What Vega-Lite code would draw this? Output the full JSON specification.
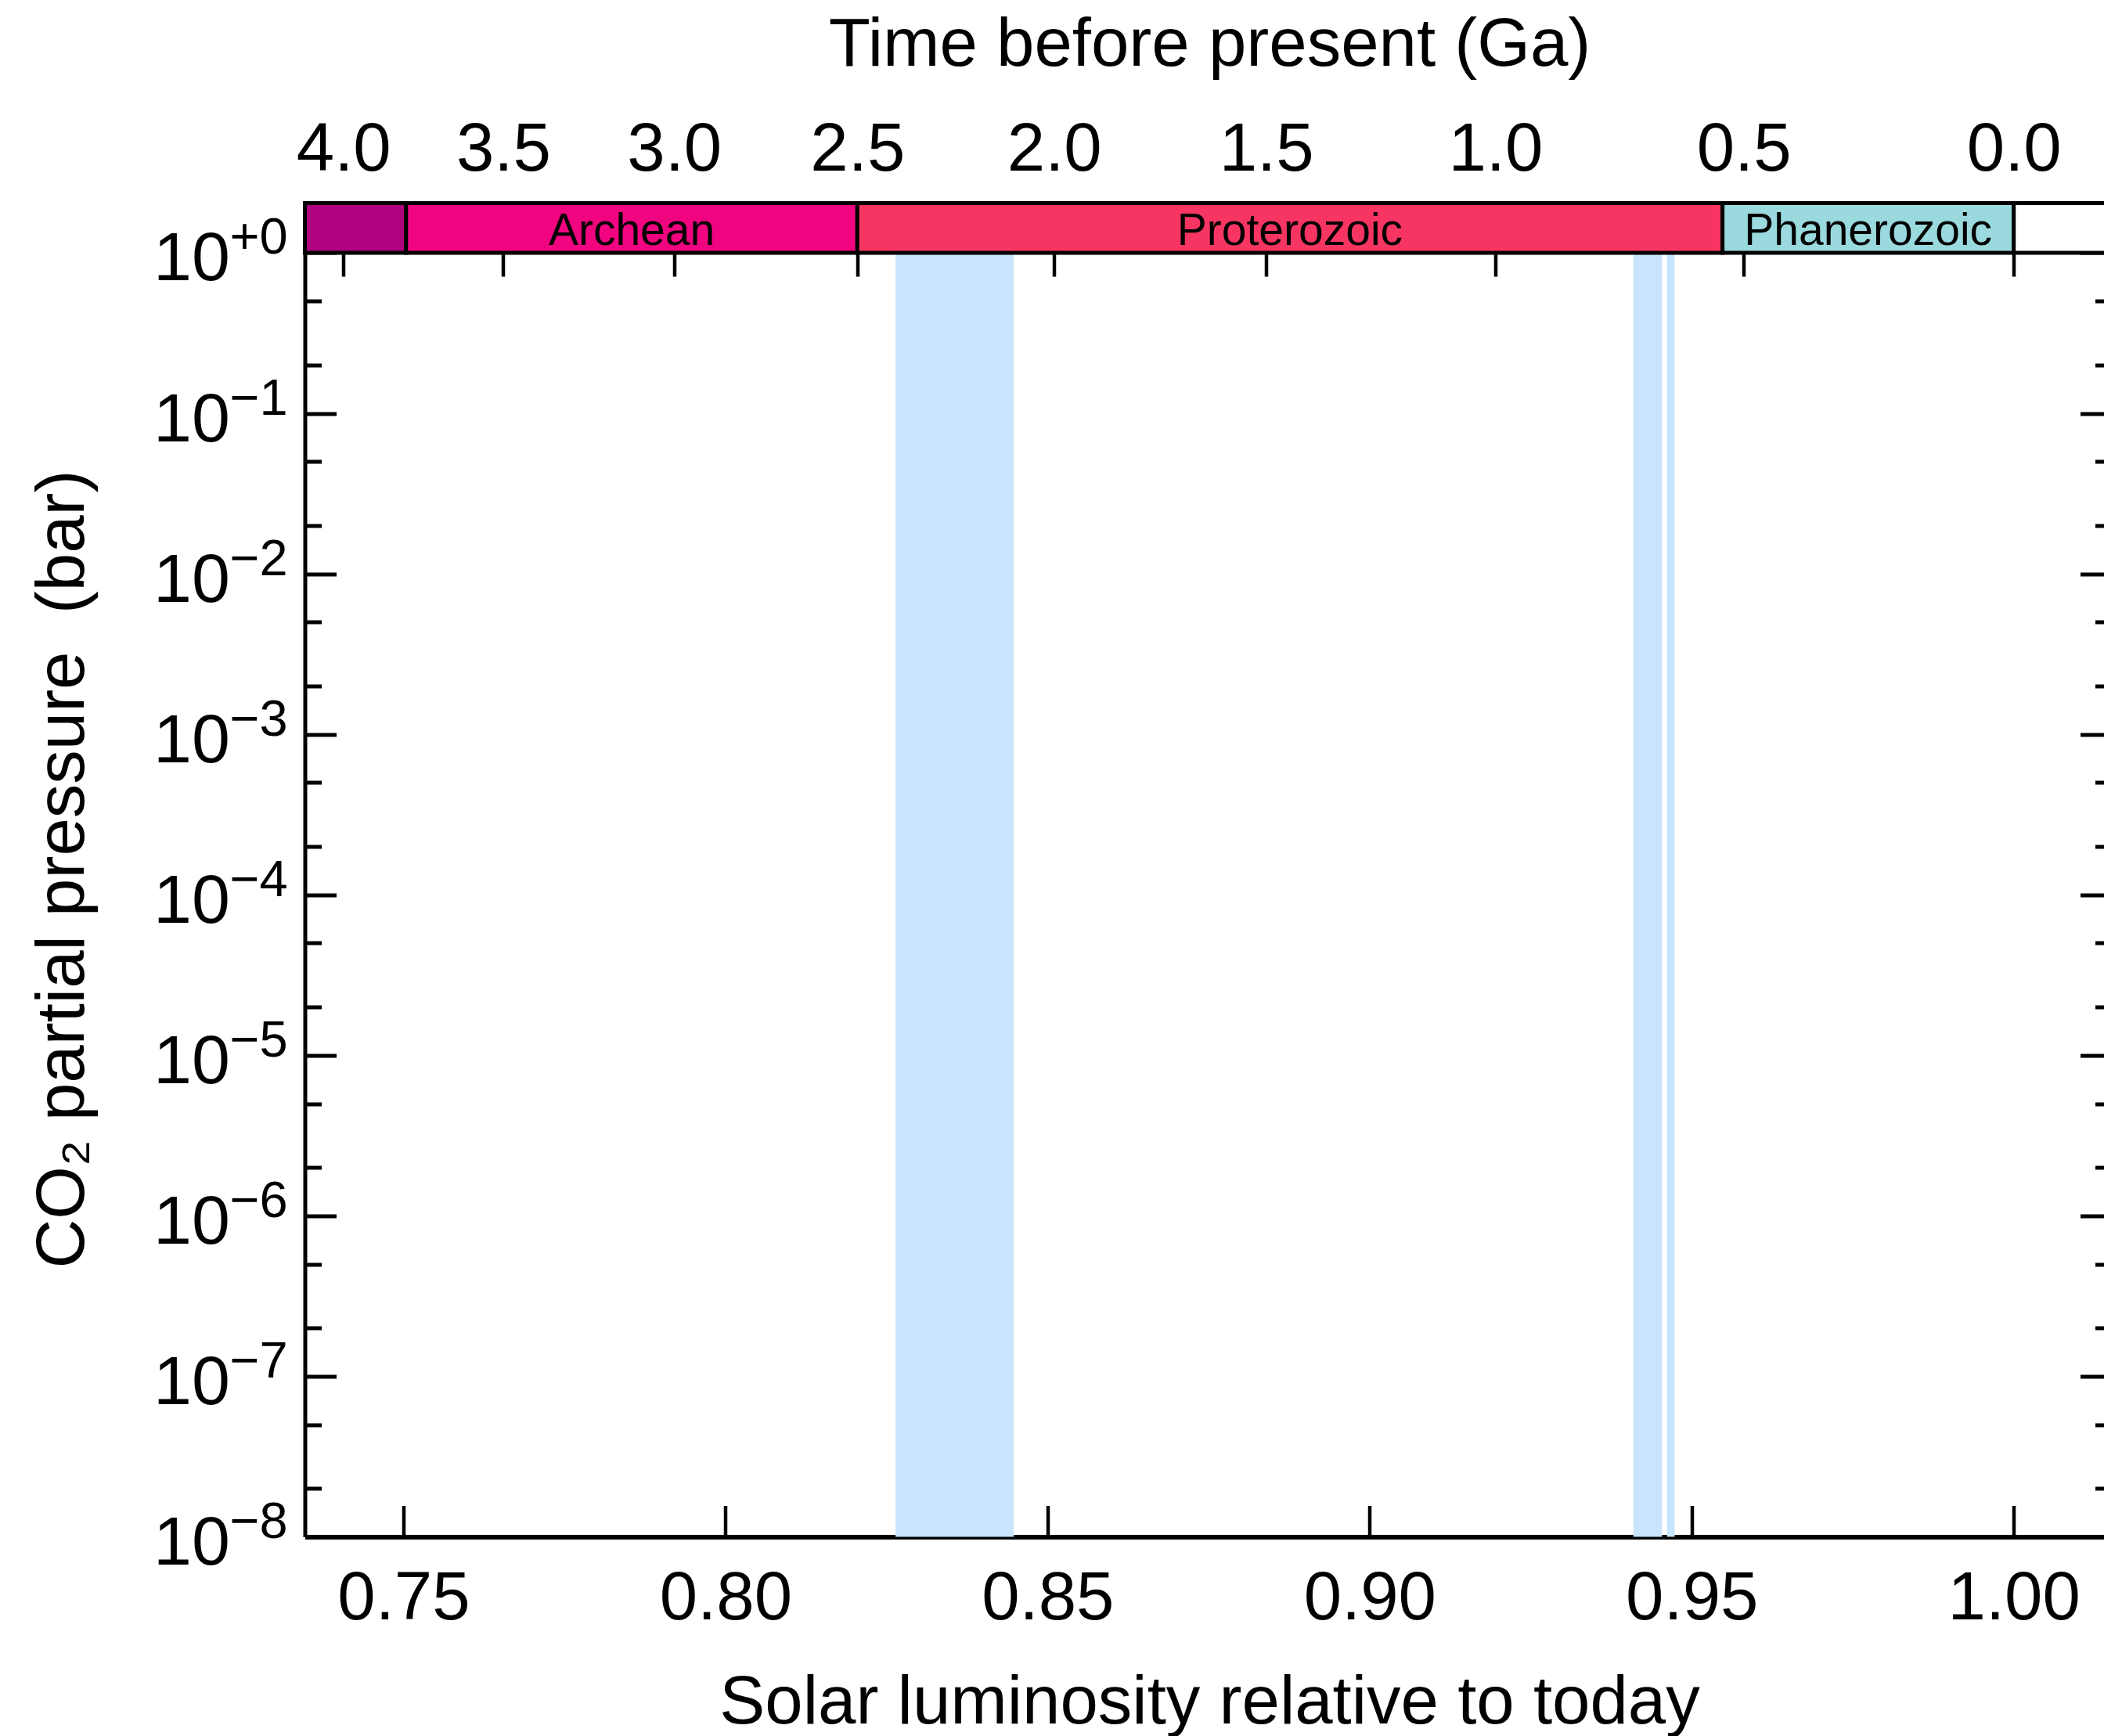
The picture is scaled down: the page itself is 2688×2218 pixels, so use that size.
{
  "$schema": "https://vega.github.io/schema/vega-lite/v6.json",
  "width": 2298.5,
  "height": 1704,
  "autosize": {"type": "none"},
  "padding": {"left": 389.5, "top": 259.5, "right": 0, "bottom": 254.5},
  "config": {
    "view": {"stroke": null},
    "font": "Liberation Sans",
    "axis": {
      "grid": false,
      "zindex": 1,
      "domainColor": "black",
      "tickColor": "black",
      "labelColor": "black",
      "titleColor": "black",
      "labelFont": "Liberation Sans",
      "titleFont": "Liberation Sans",
      "titleFontWeight": "normal",
      "labelFlush": false,
      "labelOverlap": false,
      "labelBound": false
    }
  },
  "datasets": {
    "eras": [
      {"era": "Hadean", "label": "", "start": 0.7347, "end": 0.75041},
      {"era": "Archean", "label": "Archean", "start": 0.75041, "end": 0.820467},
      {"era": "Proterozoic", "label": "Proterozoic", "start": 0.820467, "end": 0.954789},
      {"era": "Phanerozoic", "label": "Phanerozoic", "start": 0.954789, "end": 1.0},
      {"era": "Future", "label": "", "start": 1.0, "end": 1.0152}
    ],
    "glaciations": [
      {"name": "Huronian", "start": 0.826401, "end": 0.844732},
      {"name": "Sturtian", "start": 0.940948, "end": 0.945387},
      {"name": "Marinoan", "start": 0.94617, "end": 0.947346}
    ]
  },
  "layer": [
    {
      "data": {"name": "glaciations"},
      "mark": {"type": "rect", "fill": "#C8E5FD"},
      "encoding": {
        "x": {"field": "start", "type": "quantitative", "scale": {"domain": [0.7347, 1.01401], "nice": false, "zero": false}, "axis": null},
        "x2": {"field": "end"},
        "y": {"datum": 1e-8, "type": "quantitative", "scale": {"type": "log", "domain": [1e-8, 2.04], "nice": false}, "axis": null},
        "y2": {"datum": 1}
      }
    },
    {
      "data": {"name": "eras"},
      "mark": {"type": "rect", "stroke": "black", "strokeWidth": 5},
      "encoding": {
        "x": {"field": "start", "type": "quantitative", "scale": {"domain": [0.7347, 1.01401], "nice": false, "zero": false}, "axis": null},
        "x2": {"field": "end"},
        "y": {"datum": 1, "type": "quantitative", "scale": {"type": "log", "domain": [1e-8, 2.04], "nice": false}, "axis": null},
        "y2": {"datum": 2.04},
        "color": {
          "field": "era",
          "type": "nominal",
          "scale": {"domain": ["Hadean", "Archean", "Proterozoic", "Phanerozoic", "Future"], "range": ["#AE027E", "#F0047F", "#F73563", "#9AD9DD", "#FFFFFF"]},
          "legend": null
        }
      }
    },
    {
      "data": {"name": "eras"},
      "transform": [
        {"filter": "datum.label != ''"},
        {"calculate": "(datum.start + datum.end) / 2", "as": "mid"}
      ],
      "mark": {"type": "text", "fontSize": 57, "baseline": "alphabetic", "align": "center", "font": "Liberation Sans", "color": "black"},
      "encoding": {
        "x": {"field": "mid", "type": "quantitative", "scale": {"domain": [0.7347, 1.01401], "nice": false, "zero": false}, "axis": null},
        "y": {"datum": 1.119, "type": "quantitative", "scale": {"type": "log", "domain": [1e-8, 2.04], "nice": false}, "axis": null},
        "text": {"field": "label"}
      }
    },
    {
      "data": {"values": [{}]},
      "mark": {"type": "point", "opacity": 0},
      "encoding": {
        "x": {
          "datum": 0.9, "type": "quantitative",
          "scale": {"domain": [0.7347, 1.01401], "nice": false, "zero": false},
          "axis": {
            "orient": "bottom",
            "values": [0.75, 0.8, 0.85, 0.9, 0.95, 1.0],
            "format": ".2f",
            "labelFontSize": 87,
            "labelPadding": 144.5,
            "labelBaseline": "alphabetic",
            "tickSize": -40,
            "tickWidth": 4.5,
            "domainWidth": 6,
            "title": "Solar luminosity relative to today",
            "titleFontSize": 87,
            "titleX": 1155.5,
            "titleY": 237.5,
            "titleBaseline": "alphabetic",
            "titleAlign": "center"
          }
        },
        "y": {
          "datum": 1e-4, "type": "quantitative",
          "scale": {"type": "log", "domain": [1e-8, 2.04], "nice": false},
          "axis": {
            "orient": "left",
            "values": [1e-8, 1e-7, 1e-6, 1e-5, 1e-4, 1e-3, 1e-2, 1e-1, 1],
            "labelExpr": "'10'",
            "labelFontSize": 88,
            "labelAlign": "right",
            "labelBaseline": "alphabetic",
            "labelOffset": 35,
            "labelPadding": 136,
            "tickSize": -40,
            "tickWidth": 5,
            "domainWidth": 5,
            "title": "CO₂ partial pressure\u00a0 (bar)",
            "titleFontSize": 87,
            "titleAngle": -90,
            "titleX": -283.5,
            "titleY": 850.5,
            "titleBaseline": "alphabetic",
            "titleAlign": "center"
          }
        }
      }
    },
    {
      "data": {"values": [{}]},
      "mark": {"type": "point", "opacity": 0},
      "encoding": {
        "x": {
          "datum": 0.9, "type": "quantitative",
          "scale": {"domain": [0.7347, 1.01401], "nice": false, "zero": false},
          "axis": {
            "orient": "top",
            "values": [0.740681, 0.765493, 0.79203, 0.820467, 0.851024, 0.883947, 0.919518, 0.958072, 1.0],
            "labelExpr": "format(abs(11.425 * (1 / datum.value - 1)), '.1f')",
            "labelFontSize": 87,
            "labelPadding": 42.5,
            "labelBaseline": "alphabetic",
            "ticks": false,
            "domain": false,
            "title": "Time before present (Ga)",
            "titleFontSize": 87,
            "titleX": 1155.5,
            "titleY": -176.5,
            "titleBaseline": "alphabetic",
            "titleAlign": "center"
          }
        },
        "y": {
          "datum": 1e-4, "type": "quantitative",
          "scale": {"type": "log", "domain": [1e-8, 2.04], "nice": false},
          "axis": {
            "orient": "left",
            "values": [1e-8, 1e-7, 1e-6, 1e-5, 1e-4, 1e-3, 1e-2, 1e-1, 1],
            "labelExpr": "datum.value > 0.5 ? '+0' : '\u2212' + round(-log(datum.value) / LN10)",
            "labelFontSize": 65,
            "labelAlign": "left",
            "labelBaseline": "alphabetic",
            "labelOffset": 1,
            "labelPadding": 96.5,
            "ticks": false,
            "domain": false,
            "title": null
          }
        }
      }
    },
    {
      "data": {"values": [{}]},
      "mark": {"type": "point", "opacity": 0},
      "encoding": {
        "x": {
          "datum": 0.9, "type": "quantitative",
          "scale": {"domain": [0.7347, 1.01401], "nice": false, "zero": false},
          "axis": {
            "orient": "top",
            "offset": -63.5,
            "values": [0.740681, 0.765493, 0.79203, 0.820467, 0.851024, 0.883947, 0.919518, 0.958072, 1.0],
            "labels": false,
            "domain": false,
            "tickSize": -30,
            "tickWidth": 4.5,
            "title": null
          }
        },
        "y": {
          "datum": 1e-4, "type": "quantitative",
          "scale": {"type": "log", "domain": [1e-8, 2.04], "nice": false},
          "axis": {
            "orient": "left",
            "values": [0.5, 0.2, 0.05, 0.02, 0.005, 0.002, 5e-4, 2e-4, 5e-5, 2e-5, 5e-6, 2e-6, 5e-7, 2e-7, 5e-8, 2e-8],
            "labels": false,
            "domain": false,
            "tickSize": -21,
            "tickWidth": 5,
            "title": null
          }
        }
      }
    },
    {
      "data": {"values": [{}]},
      "mark": {"type": "point", "opacity": 0},
      "encoding": {
        "y": {
          "datum": 1e-4, "type": "quantitative",
          "scale": {"type": "log", "domain": [1e-8, 2.04], "nice": false},
          "axis": {
            "orient": "right",
            "offset": 9.5,
            "values": [1e-8, 1e-7, 1e-6, 1e-5, 1e-4, 1e-3, 1e-2, 1e-1, 1],
            "labels": false,
            "domain": false,
            "tickSize": -40,
            "tickWidth": 5,
            "title": null
          }
        }
      }
    },
    {
      "data": {"values": [{}]},
      "mark": {"type": "point", "opacity": 0},
      "encoding": {
        "y": {
          "datum": 1e-4, "type": "quantitative",
          "scale": {"type": "log", "domain": [1e-8, 2.04], "nice": false},
          "axis": {
            "orient": "right",
            "offset": 9.5,
            "values": [0.5, 0.2, 0.05, 0.02, 0.005, 0.002, 5e-4, 2e-4, 5e-5, 2e-5, 5e-6, 2e-6, 5e-7, 2e-7, 5e-8, 2e-8],
            "labels": false,
            "domain": false,
            "tickSize": -21,
            "tickWidth": 5,
            "title": null
          }
        }
      }
    }
  ],
  "resolve": {"axis": {"x": "independent", "y": "independent"}}
}
